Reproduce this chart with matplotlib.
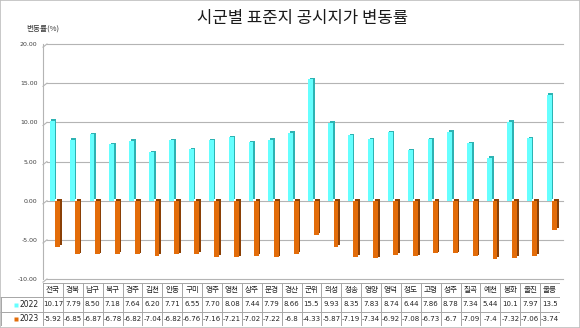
import matplotlib
matplotlib.use('Agg')
import matplotlib.pyplot as plt
import numpy as np
from matplotlib.patches import Rectangle

plt.rcParams['font.family'] = ['Noto Sans CJK KR', 'DejaVu Sans']

# data
regions = ['전국', '경북', '남구', '북구', '경주', '김천', '안동', '구미', '영주', '영천',
           '상주', '문경', '경산', '군위', '의성', '청송', '영양', '영덕', '청도', '고령',
           '성주', '칠곡', '예천', '봉화', '울진', '울릉']
txt_2022 = ['10.17', '7.79', '8.50', '7.18', '7.64', '6.20', '7.71', '6.55', '7.70', '8.08',
            '7.44', '7.79', '8.66', '15.5', '9.93', '8.35', '7.83', '8.74', '6.44', '7.86',
            '8.78', '7.34', '5.44', '10.1', '7.97', '13.5']
txt_2023 = ['-5.92', '-6.85', '-6.87', '-6.78', '-6.82', '-7.04', '-6.82', '-6.76', '-7.16', '-7.21',
            '-7.02', '-7.22', '-6.8', '-4.33', '-5.87', '-7.19', '-7.34', '-6.92', '-7.08', '-6.73',
            '-6.7', '-7.09', '-7.4', '-7.32', '-7.06', '-3.74']
v2022 = [float(s) for s in txt_2022]
v2023 = [float(s) for s in txt_2023]
yticks = [-10, -5, 0, 5, 10, 15, 20]

cyan, cyan_side = '#66FFFF', '#2DB3B3'
orange, orange_side = '#E36C09', '#8A4006'
grid_c = '#B4B4B4'

W, H = 580, 328
fig = plt.figure(figsize=(W / 100, H / 100), dpi=100)

n = len(regions)
x = np.arange(n)

# main plot area
ax = fig.add_axes([43 / W, (H - 279) / H, 517 / W, 235 / H])
ax.set_xlim(0, n)
ax.set_ylim(-10, 20)
for s in ['top', 'right', 'bottom']:
    ax.spines[s].set_visible(False)
ax.spines['left'].set_color(grid_c)
ax.spines['left'].set_linewidth(0.8)
ax.set_xticks([])
ax.set_yticks(yticks)
ax.set_yticklabels([f'{t:.2f}' for t in yticks], fontsize=4.5, color='#404040',
                   family=['DejaVu Sans'])
ax.tick_params(axis='y', length=0, pad=4)

# gridlines with a small perspective kink at the back wall
for t in yticks:
    ax.plot([0, 0.2], [t - 0.4, t], color=grid_c, lw=0.8, zorder=1, clip_on=False)
    ax.plot([0.2, n + 0.15], [t, t], color=grid_c, lw=0.8, zorder=1, clip_on=False)

# pseudo 3d bars: dark side drawn first, front face on top
bw = 0.245
dx, dy = 0.08, 0.2
ax.bar(x + 0.34 + dx, v2022, width=bw, bottom=dy, align='edge', color=cyan_side, zorder=2)
ax.bar(x + 0.34, v2022, width=bw, align='edge', color=cyan, zorder=3)
ax.bar(x + 0.61 + dx, v2023, width=bw, bottom=dy, align='edge', color=orange_side, zorder=2)
ax.bar(x + 0.61, v2023, width=bw, align='edge', color=orange, zorder=3)

# data table under the plot
tab = fig.add_axes([0, 2 / H, 560 / W, 43 / H])
tab.set_xlim(-43 / (517 / n), n)
tab.set_ylim(0, 3)
tab.axis('off')
x0 = -43 / (517 / n)
lc = '#A6A6A6'
tab.plot([0, n], [3, 3], color=lc, lw=0.7)
for yy in [0, 1, 2]:
    tab.plot([x0, n], [yy, yy], color=lc, lw=0.7)
for i in range(n + 1):
    tab.plot([i, i], [0, 3], color=lc, lw=0.7)
tab.plot([x0 + 0.05, x0 + 0.05], [0, 2], color=lc, lw=0.7)

for i, name in enumerate(regions):
    tab.text(i + 0.5, 2.5, name, ha='center', va='center', fontsize=5.5, color='#222222')
    tab.text(i + 0.5, 1.5, txt_2022[i], ha='center', va='center', fontsize=5,
             family=['Liberation Sans Narrow', 'DejaVu Sans'], color='#222222')
    tab.text(i + 0.5, 0.5, txt_2023[i], ha='center', va='center', fontsize=5,
             family=['Liberation Sans Narrow', 'DejaVu Sans'], color='#222222')

for yy, col, lab in [(1.5, cyan, '2022'), (0.5, orange, '2023')]:
    tab.plot([x0 + 0.8], [yy], marker='s', ms=3, color=col, mec='none')
    tab.text(x0 + 1.0, yy, lab, ha='left', va='center', fontsize=5.5,
             family=['Liberation Sans Narrow', 'DejaVu Sans'], color='#222222')

# titles
fig.text(303 / W, 1 - 18 / H, '시군별 표준지 공시지가 변동률', ha='center', va='center',
         fontsize=12, color='#1a1a1a')
fig.text(26 / W, 1 - 29 / H, '변동률(%)', ha='left', va='center', fontsize=5.5, color='#333333')

fig.patches.append(Rectangle((0, 0), 1, 1, transform=fig.transFigure, fill=False,
                             ec='#BFBFBF', lw=1.2))

fig.savefig('out.png', dpi=100)
